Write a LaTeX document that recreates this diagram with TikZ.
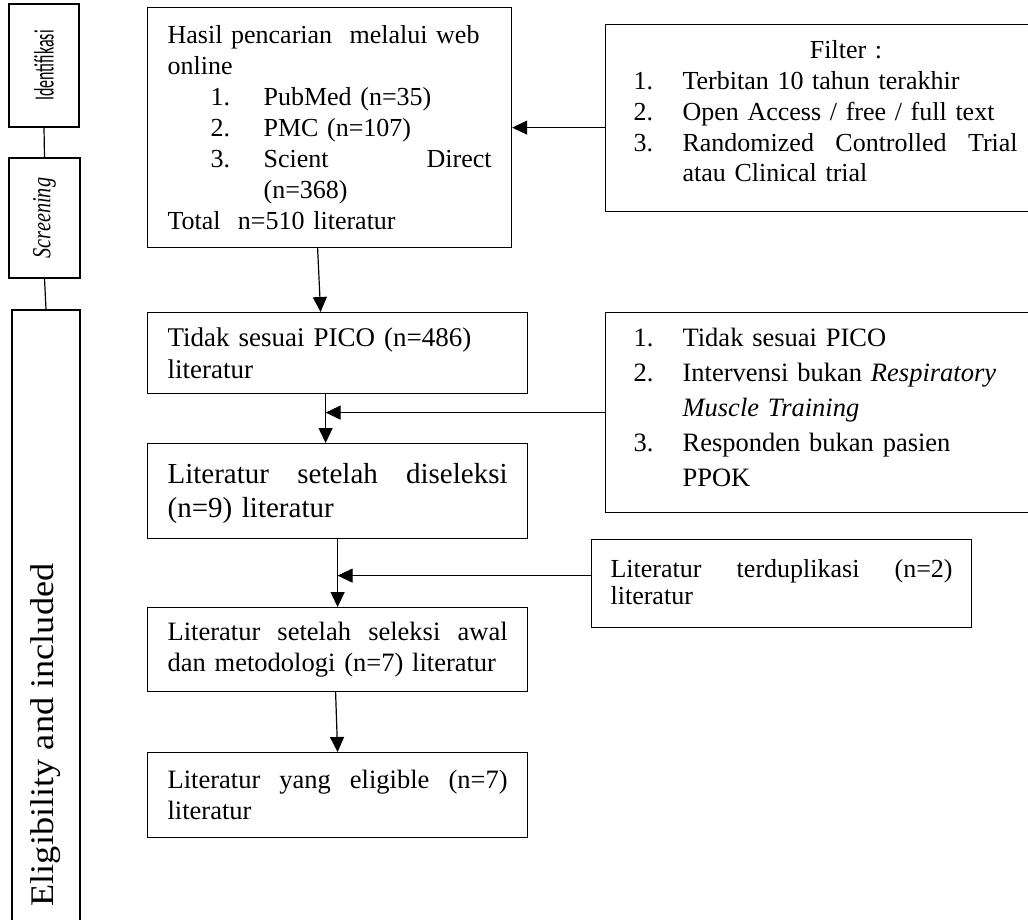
\documentclass[tikz,border=0pt]{standalone}
\usepackage{fontspec}
\setmainfont{Liberation Serif}
\newfontfamily\calibrifont{Carlito}
\usetikzlibrary{arrows.meta}

\tikzset{
  box/.style={draw, line width=1.2pt, anchor=north west, inner xsep=20pt, inner ysep=0pt, align=left},
  phase/.style={draw, line width=1.2pt, inner sep=0pt},
  arr/.style={line width=1.2pt, -{Triangle[length=15pt,width=14pt]}},
  link/.style={line width=1.2pt}
}

% number column of a list
\newcommand{\nr}[2][49pt]{\makebox[#1][l]{#2}}

\begin{document}
\begin{tikzpicture}[x=1pt,y=-1pt]
  \useasboundingbox (0,0) rectangle (1028,919);

  % phase boxes on the left
  \node[phase, minimum width=70pt, minimum height=123pt] (idf) at (44,65.5)
    {\rotatebox{90}{\calibrifont\fontsize{28}{32}\selectfont\scalebox{0.57}[1]{Identifikasi}}};
  \node[phase, minimum width=71pt, minimum height=120pt] (scr) at (44.5,218)
    {\rotatebox{90}{\fontsize{26}{30}\selectfont\scalebox{0.78}[1]{\textit{Screening}}}};
  \node[phase, minimum width=68pt, minimum height=850pt] (elg) at (46,735)
    {\rotatebox{90}{\fontsize{33}{38}\selectfont\scalebox{1.1}[1]{Eligibility and included}}};

  % main column
  \node[box, minimum width=364pt, minimum height=240pt, text width=324pt,
        font=\fontsize{26}{31}\selectfont] (hasil) at (147,7)
    {Hasil pencarian\ \ melalui web\\
     online\\
     \hspace*{43pt}\nr[53pt]{1.}PubMed (n=35)\\
     \hspace*{43pt}\nr[53pt]{2.}PMC (n=107)\\
     \hspace*{43pt}\nr[53pt]{3.}Scient\hfill Direct\\
     \hspace*{96pt}(n=368)\\
     Total\ \ n=510 literatur};
  \node[box, minimum width=380pt, minimum height=81pt, text width=340pt,
        font=\fontsize{27}{32}\selectfont] (pico) at (147,312)
    {Tidak sesuai PICO (n=486)\\literatur};
  \node[box, minimum width=380pt, minimum height=95pt, text width=340pt, text height=25pt,
        font=\fontsize{29}{34}\selectfont] (dis) at (147,443)
    {Literatur\hfill setelah\hfill diseleksi\\(n=9) literatur};
  \node[box, minimum width=380pt, minimum height=84pt, text width=340pt,
        font=\fontsize{26.5}{31}\selectfont] (awal) at (147,607)
    {Literatur\hfill setelah\hfill seleksi\hfill awal\\dan metodologi (n=7) literatur};
  \node[box, minimum width=380pt, minimum height=85pt, text width=340pt,
        font=\fontsize{26.5}{31}\selectfont] (yang) at (147,752)
    {Literatur\hfill yang\hfill eligible\hfill (n=7)\\literatur};

  % side boxes
  \node[box, inner xsep=28pt, minimum width=440pt, minimum height=187pt, text width=384pt,
        text depth=137pt, font=\fontsize{26}{30.8}\selectfont] (filt) at (605,24)
    {\hspace*{45pt}\makebox[335pt]{Filter :}\\
     \nr{1.}Terbitan 10 tahun terakhir\\
     \nr{2.}Open Access / free / full text\\
     \nr{3.}Randomized\hfill Controlled\hfill Trial\\
     \hspace*{49pt}atau Clinical trial};
  \node[box, inner xsep=28pt, minimum width=440pt, minimum height=200pt, text width=384pt,
        text depth=150pt, font=\fontsize{26.5}{35}\selectfont] (excl) at (605,312)
    {\nr{1.}Tidak sesuai PICO\\
     \nr{2.}Intervensi bukan \textit{Respiratory}\\
     \hspace*{49pt}\textit{Muscle Training}\\
     \nr{3.}Responden bukan pasien\\
     \hspace*{49pt}PPOK};
  \node[box, inner xsep=19pt, minimum width=380pt, minimum height=88pt, text width=342pt,
        text depth=31pt, font=\fontsize{26}{27}\selectfont] (dup) at (591,539)
    {Literatur\hfill terduplikasi\hfill (n=2)\\literatur};

  % joins on the main column
  \coordinate (p1) at ([xshift=-12pt]pico.south);
  \coordinate (j1) at (p1 |- excl.west);
  \coordinate (j2) at (dis.south |- dup.west);

  % phase links
  \draw[link] (idf.south) -- (scr.north);
  \draw[link] (scr.south) -- (elg.north);

  % flow
  \draw[arr] ([xshift=-12pt]hasil.south) -- ([xshift=-17pt]pico.north);
  \draw[arr] (filt.west |- hasil.east) -- (hasil.east);
  \draw[arr] (p1) -- ([xshift=-12pt]dis.north);
  \draw[arr] (excl.west) -- (j1);
  \draw[arr] (dis.south) -- (awal.north);
  \draw[arr] ([yshift=8pt]dup.west) -- ([yshift=8pt]j2);
  \draw[arr] ([xshift=-2pt]awal.south) -- (yang.north);
\end{tikzpicture}
\end{document}
